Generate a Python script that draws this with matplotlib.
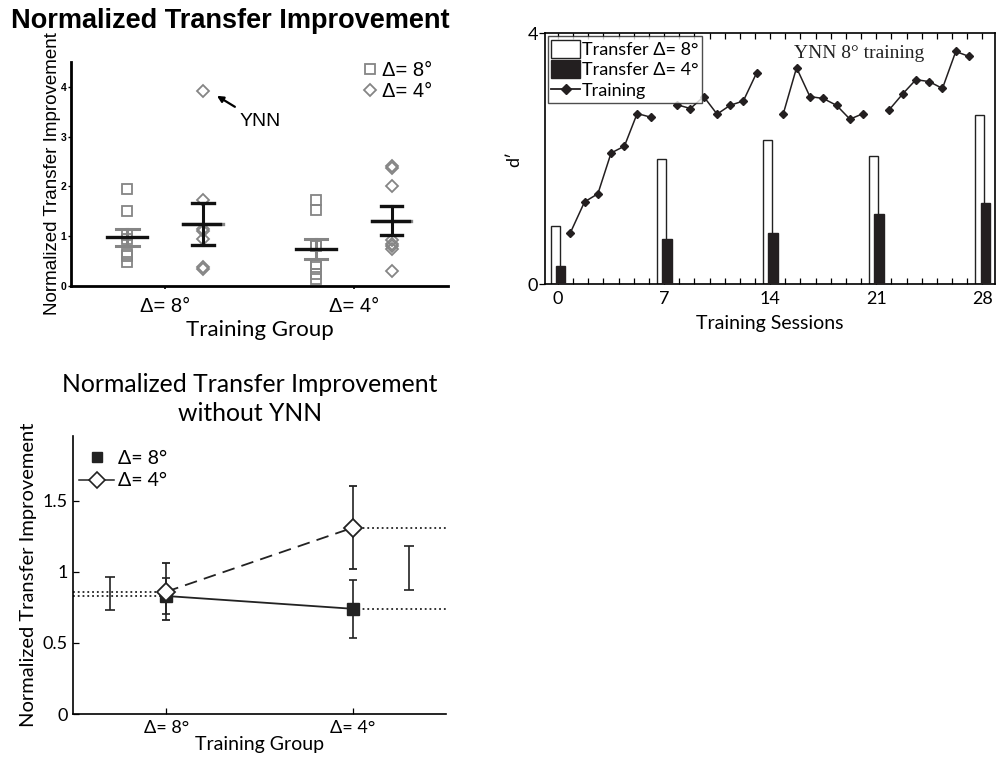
import numpy as np
import matplotlib
matplotlib.use("Agg")
import matplotlib.pyplot as plt
from matplotlib.patches import Patch
from matplotlib.lines import Line2D

# ---- panel A: individual normalized transfer improvement ----
groups = ["Δ= 8°", "Δ= 4°"]
sq_8 = [1.95, 1.50, 1.02, 0.95, 0.65, 0.60, 0.48]
dia_8 = [3.92, 1.73, 1.15, 1.10, 0.95, 0.38, 0.35]
sq_4 = [1.73, 1.52, 0.85, 0.80, 0.45, 0.38, 0.25, 0.15]
dia_4 = [2.42, 2.37, 2.00, 0.92, 0.85, 0.80, 0.75, 0.30]
sq_mean = [0.98, 0.75]
sq_se = [0.175, 0.20]
dia_mean = [1.25, 1.31]
dia_se = [0.42, 0.29]

# ---- panel B: YNN training / transfer d' ----
transfer_days = [0, 7, 14, 21, 28]
transfer_8 = [0.93, 1.99, 2.29, 2.04, 2.70]
transfer_4 = [0.28, 0.72, 0.82, 1.12, 1.29]
train_x = [
    [0.83, 1.76, 2.64, 3.51, 4.39, 5.23, 6.15],
    [7.86, 8.74, 9.62, 10.50, 11.35, 12.23, 13.11],
    [14.87, 15.74, 16.62, 17.50, 18.38, 19.26, 20.14],
    [21.85, 22.73, 23.61, 24.48, 25.36, 26.24, 27.12],
]
train_d = [
    [0.82, 1.31, 1.44, 2.09, 2.20, 2.72, 2.66],
    [2.86, 2.80, 2.99, 2.71, 2.85, 2.92, 3.37],
    [2.72, 3.45, 2.99, 2.96, 2.85, 2.63, 2.72],
    [2.78, 3.03, 3.26, 3.23, 3.12, 3.71, 3.63],
]

# ---- panel C: group means without YNN ----
mean_8 = [0.83, 0.74]
err_8 = [0.13, 0.205]
mean_4 = [0.86, 1.31]
err_4 = [0.20, 0.29]
ref_x = [0.70, 2.30]
ref_mid = [0.846, 1.026]
ref_err = [0.115, 0.157]

GRAY = "#858585"
INK = "#231f20"
SANS = ["Lato", "DejaVu Sans"]
ARIAL = ["Liberation Sans", "DejaVu Sans"]

fig = plt.figure(figsize=(9.97, 7.6), dpi=100)

# ================= panel A =================
ax = fig.add_axes([0.0709, 0.6237, 0.3786, 0.2947])
pos = np.array([1, 2])
for xc, vals in zip(pos - 0.2, [sq_8, sq_4]):
    ax.plot([xc] * len(vals), vals, "s", mfc="none", mec=GRAY, mew=1.3, ms=7.5)
for xc, vals in zip(pos + 0.2, [dia_8, dia_4]):
    ax.plot([xc] * len(vals), vals, "D", mfc="none", mec=GRAY, mew=1.3, ms=6.5)

for i in range(2):
    xs = pos[i] - 0.2
    m, s = sq_mean[i], sq_se[i]
    ax.plot([xs, xs], [m - s, m + s], color=GRAY, lw=2.2)
    for y in (m - s, m + s):
        ax.plot([xs - 0.06, xs + 0.06], [y, y], color=GRAY, lw=2.2)
    ax.plot([xs - 0.105, xs + 0.105], [m, m], color="#111111", lw=2.4)

    xd = pos[i] + 0.2
    m, s = dia_mean[i], dia_se[i]
    ax.plot([xd - 0.105, xd + 0.105], [m, m], color=GRAY, lw=2.4)
    ax.plot([xd, xd], [m - s, m + s], color="#111111", lw=2.2)
    for y in (m - s, m + s):
        ax.plot([xd - 0.058, xd + 0.058], [y, y], color="#111111", lw=2.4)
    ax.plot([xd - 0.105, xd + 0.09], [m, m], color="#111111", lw=2.4)

ax.set_xlim(0.5, 2.5)
ax.set_ylim(0, 4.5)
ax.set_xticks(pos)
ax.set_xticklabels(groups, family=ARIAL, fontsize=14.5)
ax.set_yticks([0, 1, 2, 3, 4])
ax.set_yticklabels(["0", "1", "2", "3", "4"], fontsize=7.5, fontweight="bold",
                   family=ARIAL)
ax.tick_params(axis="x", length=2, width=1.2, pad=6)
ax.tick_params(axis="y", length=2, width=1, pad=1)
for side in ("top", "right"):
    ax.spines[side].set_visible(False)
for side in ("left", "bottom"):
    ax.spines[side].set_linewidth(2)
ax.set_ylabel("Normalized Transfer Improvement", family=ARIAL, fontsize=13.5,
              labelpad=0)
ax.set_xlabel("Training Group", family=SANS, fontsize=16, labelpad=3)

handles = [
    Line2D([], [], ls="none", marker="s", mfc="none", mec=GRAY, mew=1.3, ms=7),
    Line2D([], [], ls="none", marker="D", mfc="none", mec=GRAY, mew=1.3, ms=6),
]
ax.legend(handles, ["Δ= 8°", "Δ= 4°"], loc="upper right", frameon=False,
          prop={"family": ARIAL, "size": 14.5}, handlelength=0.6,
          handletextpad=0.3, labelspacing=0.1, borderaxespad=0.1,
          bbox_to_anchor=(0.985, 1.05))
ax.text(1.395, 3.3, "YNN", family=ARIAL, fontsize=14, ha="left",
        va="center")
ax.annotate("", xy=(1.275, 3.82), xytext=(1.37, 3.6),
            arrowprops=dict(arrowstyle="-|>", color="black", lw=1.6,
                            mutation_scale=9, shrinkA=0, shrinkB=0))
fig.text(0.011, 0.973, "Normalized Transfer Improvement", family=ARIAL,
         fontsize=19.5, fontweight="bold", ha="left", va="center")

# ================= panel B =================
bx = fig.add_axes([0.5466, 0.6263, 0.451, 0.3299])
bx.bar(np.array(transfer_days) - 0.17, transfer_8, width=0.6, color="white",
       edgecolor="#222222", lw=1, zorder=2)
bx.bar(np.array(transfer_days) + 0.19, transfer_4, width=0.62, color=INK,
       edgecolor=INK, lw=1, zorder=3)
for xs, ys in zip(train_x, train_d):
    bx.plot(xs, ys, "-", color=INK, lw=1.1, marker="D", ms=4.5, zorder=4)
bx.set_xlim(-0.85, 28.8)
bx.set_ylim(0, 4)
bx.set_xticks(transfer_days)
bx.set_xticks(np.arange(0, 29), minor=True)
bx.set_yticks([0, 4])
bx.tick_params(axis="x", which="both", direction="in", top=True, length=4,
               width=0.9, labelsize=13, pad=5)
bx.tick_params(axis="y", direction="out", length=4, width=0.9, labelsize=13,
               pad=1)
for lab in bx.get_xticklabels() + bx.get_yticklabels():
    lab.set_family(SANS)
for sp in bx.spines.values():
    sp.set_linewidth(1.2)
bx.set_xlabel("Training Sessions", family=SANS, fontsize=14, labelpad=6)
bx.set_ylabel("d′", family=SANS, fontsize=13, labelpad=4)
bx.text(15.55, 3.68, "YNN 8° training", family=["Liberation Serif"],
        fontsize=14, ha="left", va="center", color="#222222")
bhandles = [
    Patch(facecolor="white", edgecolor="#222222", lw=1),
    Patch(facecolor=INK, edgecolor=INK, lw=1),
    Line2D([], [], color=INK, lw=1.3, marker="D", ms=5),
]
leg = bx.legend(bhandles, ["Transfer Δ= 8°", "Transfer Δ= 4°", "Training"],
                loc="upper left", prop={"family": SANS, "size": 13},
                frameon=True, fancybox=False, edgecolor="#222222",
                handlelength=1.6, handleheight=1.15, handletextpad=0.1,
                labelspacing=0.15, borderpad=0.2, borderaxespad=0.15)
leg.get_frame().set_linewidth(1)
leg.set_zorder(6)

# ================= panel C =================
cx = fig.add_axes([0.0732, 0.0605, 0.3741, 0.3658])
cx.plot([0.5, 1], [mean_8[0]] * 2, ":", color="#222222", lw=1.3)
cx.plot([0.5, 1], [mean_4[0]] * 2, ":", color="#222222", lw=1.3)
cx.plot([2, 2.5], [mean_8[1]] * 2, ":", color="#222222", lw=1.3)
cx.plot([2, 2.5], [mean_4[1]] * 2, ":", color="#222222", lw=1.3)
cx.errorbar(ref_x, ref_mid, yerr=ref_err, fmt="none", ecolor="#222222",
            elinewidth=1.2, capsize=3.5, capthick=1.2)
cx.errorbar(pos, mean_8, yerr=err_8, fmt="-s", color="#222222", mfc="#222222",
            mec="#222222", ms=9, lw=1.3, elinewidth=1.2, capsize=3,
            capthick=1.2, zorder=3)
cx.errorbar(pos, mean_4, yerr=err_4, fmt="--D", color="#222222", mfc="white",
            mec="#222222", mew=1.3, ms=9, lw=1.3, dashes=(7, 4),
            elinewidth=1.2, capsize=3, capthick=1.2, zorder=4)
cx.set_xlim(0.5, 2.5)
cx.set_ylim(0, 1.955)
cx.set_xticks(pos)
cx.set_xticklabels(groups)
cx.set_yticks([0, 0.5, 1, 1.5])
cx.set_yticklabels(["0", "0.5", "1", "1.5"])
cx.tick_params(direction="in", length=4, width=0.9, labelsize=13, pad=4)
for lab in cx.get_xticklabels() + cx.get_yticklabels():
    lab.set_family(SANS)
for side in ("top", "right"):
    cx.spines[side].set_visible(False)
for side in ("left", "bottom"):
    cx.spines[side].set_linewidth(1.2)
cx.set_ylabel("Normalized Transfer Improvement", family=SANS, fontsize=14.5,
              labelpad=4)
cx.set_xlabel("Training Group", family=SANS, fontsize=14, labelpad=0)
cx.set_title("Normalized Transfer Improvement\nwithout YNN", family=SANS,
             fontsize=17.8, linespacing=1.3, pad=11, x=0.475)
chandles = [
    Line2D([], [], ls="none", marker="s", color="#222222", ms=7),
    Line2D([], [], ls="-", color="#222222", lw=1.1, marker="D", mfc="white",
           mec="#222222", mew=1.2, ms=8),
]
cx.legend(chandles, ["Δ= 8°", "Δ= 4°"], loc="upper left", frameon=False,
          prop={"family": SANS, "size": 14}, handlelength=1.8,
          handletextpad=0.2, labelspacing=0.3, borderaxespad=0.3,
          bbox_to_anchor=(-0.02, 1.0))

fig.savefig("out.png", dpi=100)
